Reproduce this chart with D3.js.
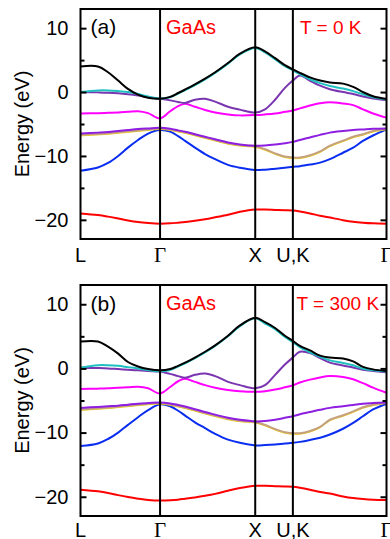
<!DOCTYPE html>
<html>
<head>
<meta charset="utf-8">
<script src="https://cdn.jsdelivr.net/npm/d3@7"></script>
<style>
  html, body { margin: 0; padding: 0; background: #fff; }
  svg { display: block; font-family: "Liberation Sans", Arial, sans-serif; }
</style>
</head>
<body>
<div id="chart"></div>
<script>
// k-path grid (fraction of the L-Γ-X-U,K-Γ path)
const kPath = [0, 0.057, 0.090, 0.123, 0.155, 0.188, 0.221, 0.260, 0.293, 0.319, 0.342, 0.374, 0.407, 0.440, 0.482,
  0.521, 0.571, 0.603, 0.636, 0.668, 0.694, 0.717, 0.750, 0.783, 0.815, 0.858, 0.891, 0.923, 0.956, 1];
const symLabels = ['L', 'Γ', 'X', 'U,K', 'Γ'];
const symK = [0, 0.260, 0.571, 0.694, 1];
const majorTicks = [-20, -10, 0, 10];
const minorTicks = [-15, -5, 5];

// band colours, lowest band first (drawing order)
const bandColors = ['#ff0000', '#0a2ef0', '#c4a07e', '#8e1ee0', '#ff00ff', '#7a35b0', '#20c0c0', '#000000'];

// (a) T = 0 K
const redA = [-19.0, -19.25, -19.5, -19.8, -20.1, -20.35, -20.5, -20.6, -20.55, -20.45, -20.35, -20.15, -19.9, -19.6, -19.2,
  -18.75, -18.4, -18.4, -18.45, -18.5, -18.55, -18.7, -19.0, -19.35, -19.65, -20.05, -20.3, -20.45, -20.55, -20.6];
const blueA = [-12.3, -11.8, -11.1, -10.0, -8.7, -7.5, -6.5, -5.95, -6.2, -6.9, -7.65, -8.7, -9.7, -10.5, -11.4,
  -11.85, -12.2, -12.15, -12.0, -11.85, -11.7, -11.6, -11.35, -11.05, -10.5, -9.5, -8.7, -7.65, -6.8, -5.85];
const tanA = [-6.7, -6.55, -6.45, -6.3, -6.15, -6.0, -5.85, -5.7, -5.85, -6.1, -6.3, -6.7, -7.1, -7.5, -8.0,
  -8.3, -8.5, -8.95, -9.6, -10.1, -10.25, -10.25, -9.9, -9.3, -8.4, -7.6, -7.0, -6.6, -6.1, -5.75];
const violetA = [-6.5, -6.35, -6.25, -6.1, -5.95, -5.8, -5.7, -5.6, -5.75, -6.0, -6.2, -6.6, -7.0, -7.4, -7.9,
  -8.2, -8.4, -8.35, -8.2, -8.0, -7.8, -7.5, -7.1, -6.7, -6.35, -6.1, -5.95, -5.85, -5.75, -5.7];
const magentaA = [-3.35, -3.3, -3.25, -3.2, -3.1, -3.0, -3.3, -4.1, -3.0, -2.2, -1.85, -2.3, -2.8, -3.2, -3.5,
  -3.65, -3.6, -3.5, -3.35, -3.1, -2.9, -2.55, -2.1, -1.75, -1.6, -1.8, -2.05, -2.7, -3.35, -4.0];
const purpleA = [0.0, -0.05, -0.1, -0.2, -0.35, -0.55, -0.8, -1.05, -1.3, -1.55, -1.7, -1.2, -1.05, -1.5, -2.3,
  -2.75, -3.2, -2.7, -1.2, 0.65, 1.8, 2.6, 1.75, 1.0, 0.45, 0.0, -0.3, -0.7, -1.0, -1.25];
const cyanA = [0.0, 0.25, 0.25, 0.15, 0.0, -0.3, -0.7, -1.0, -0.8, -0.25, 0.3, 1.1, 2.0, 3.0, 4.45,
  5.9, 6.9, 6.2, 5.15, 4.05, 3.4, 2.8, 2.0, 1.4, 0.95, 0.55, 0.15, -0.35, -0.8, -1.15];
const blackA = [4.0, 4.0, 3.1, 1.8, 0.5, -0.4, -0.9, -1.05, -0.75, -0.15, 0.4, 1.2, 2.1, 3.1, 4.55,
  6.0, 7.0, 6.35, 5.3, 4.2, 3.55, 3.0, 2.3, 1.8, 1.5, 1.32, 0.8, 0.0, -0.65, -1.1];

// (b) T = 300 K
const redB = [-18.9, -19.15, -19.4, -19.75, -20.05, -20.3, -20.5, -20.6, -20.55, -20.45, -20.3, -20.1, -19.85, -19.55, -19.05,
  -18.65, -18.3, -18.3, -18.35, -18.4, -18.45, -18.6, -18.9, -19.25, -19.5, -19.95, -20.2, -20.35, -20.45, -20.5];
const blueB = [-12.1, -11.7, -11.0, -10.0, -8.8, -7.6, -6.5, -5.6, -5.9, -6.6, -7.35, -8.4, -9.3, -10.2, -11.1,
  -11.6, -12.0, -11.95, -11.85, -11.7, -11.6, -11.45, -11.15, -10.8, -10.3, -9.4, -8.5, -7.45, -6.4, -5.5];
const tanB = [-6.4, -6.2, -6.1, -5.95, -5.8, -5.65, -5.5, -5.4, -5.6, -5.85, -6.1, -6.5, -6.95, -7.35, -7.85,
  -8.15, -8.35, -8.8, -9.45, -9.95, -10.1, -10.1, -9.75, -9.1, -8.0, -7.3, -6.7, -6.05, -5.65, -5.3];
const violetB = [-6.15, -6.0, -5.9, -5.8, -5.65, -5.5, -5.4, -5.3, -5.45, -5.7, -5.95, -6.35, -6.8, -7.2, -7.7,
  -8.0, -8.25, -8.2, -8.0, -7.7, -7.45, -7.15, -6.8, -6.45, -6.15, -5.9, -5.7, -5.5, -5.4, -5.3];
const magentaB = [-3.2, -3.15, -3.1, -3.0, -2.95, -2.85, -3.1, -3.9, -2.9, -2.0, -1.6, -2.1, -2.6, -3.0, -3.35,
  -3.55, -3.65, -3.55, -3.3, -2.95, -2.65, -2.2, -1.75, -1.4, -1.2, -1.35, -1.7, -2.3, -3.0, -3.8];
const purpleB = [0.1, 0.05, 0.0, -0.1, -0.2, -0.3, -0.4, -0.5, -0.85, -1.2, -1.45, -1.0, -0.8, -1.2, -2.1,
  -2.6, -3.1, -2.6, -1.0, 0.6, 1.7, 2.6, 2.4, 1.6, 0.9, 0.45, 0.15, -0.2, -0.4, -0.6];
const cyanB = [0.1, 0.5, 0.5, 0.4, 0.2, 0.0, -0.25, -0.45, -0.25, 0.3, 0.8, 1.6, 2.5, 3.5, 5.0,
  6.6, 7.8, 7.0, 6.1, 4.9, 4.1, 3.3, 2.5, 1.8, 1.25, 0.85, 0.5, -0.05, -0.3, -0.5];
const blackB = [4.2, 4.2, 3.4, 2.3, 1.0, 0.3, -0.1, -0.3, -0.1, 0.4, 0.9, 1.7, 2.6, 3.6, 5.1,
  6.7, 7.9, 7.2, 6.3, 5.1, 4.3, 3.5, 2.8, 2.0, 1.7, 1.55, 1.1, 0.25, -0.15, -0.4];

const W = 390, H = 539;
const svg = d3.select('#chart').append('svg').attr('width', W).attr('height', H);

function drawPanel({ top, bottom, tag, temp, bands, tagY, nameY, tempY, tempX, labelY }) {
  const x = d3.scaleLinear().domain([0, 1]).range([80.5, 386.5]);
  const y = d3.scaleLinear().domain([-23, 13]).range([bottom, top]);
  const g = svg.append('g');

  const line = d3.line().x((d, i) => x(kPath[i])).y(d => y(d)).curve(d3.curveCatmullRom.alpha(0.5));
  bands.forEach((b, i) => {
    // faint yellow edge under the tan band, as in the original
    if (i === 2) g.append('path').attr('d', line(b)).attr('fill', 'none')
      .attr('stroke', '#f0d000').attr('stroke-width', 1).attr('transform', 'translate(0,1)');
    g.append('path').attr('d', line(b)).attr('fill', 'none')
      .attr('stroke', bandColors[i]).attr('stroke-width', 2);
  });

  // high-symmetry lines
  g.selectAll('.vl').data(symK.slice(1, -1)).join('line')
    .attr('x1', d => x(d)).attr('x2', d => x(d)).attr('y1', top).attr('y2', bottom)
    .attr('stroke', '#000').attr('stroke-width', 2);

  // inward ticks on both sides
  const left = d3.axisLeft(y).tickValues(majorTicks).tickSize(-6).tickFormat(d3.format('d')).tickPadding(12);
  const leftMinor = d3.axisLeft(y).tickValues(minorTicks).tickSize(-4).tickFormat('');
  const right = d3.axisRight(y).tickValues(majorTicks).tickSize(-6).tickFormat('');
  const rightMinor = d3.axisRight(y).tickValues(minorTicks).tickSize(-4).tickFormat('');
  [[left, 80.5], [leftMinor, 80.5], [right, 386.5], [rightMinor, 386.5]].forEach(([ax, px]) => {
    const a = g.append('g').attr('transform', `translate(${px},0)`).call(ax);
    a.select('.domain').remove();
    a.selectAll('line').attr('stroke', '#000').attr('stroke-width', 2);
    a.selectAll('text').attr('fill', '#000').style('font-size', '20px').attr('font-family', null);
  });

  g.append('rect').attr('x', 80.5).attr('y', top).attr('width', 306).attr('height', bottom - top)
    .attr('fill', 'none').attr('stroke', '#000').attr('stroke-width', 2);

  // k-point labels (Γ set in a serif face like the original)
  g.selectAll('.kl').data(symLabels).join('text')
    .attr('x', (d, i) => x(symK[i])).attr('y', labelY).attr('text-anchor', 'middle')
    .style('font-size', d => d === 'Γ' ? '21px' : '20px')
    .style('font-family', d => d === 'Γ' ? '"Liberation Serif", "Times New Roman", serif' : null)
    .text(d => d);

  g.append('text').attr('transform', `translate(29,${(top + bottom) / 2}) rotate(-90)`)
    .attr('text-anchor', 'middle').style('font-size', '20px').text('Energy (eV)');

  g.append('text').attr('x', 90.5).attr('y', tagY).style('font-size', '21px').text(tag);
  g.append('text').attr('x', 166).attr('y', nameY).attr('fill', '#ff0000').style('font-size', '20px').text('GaAs');
  g.append('text').attr('x', tempX).attr('y', tempY).attr('fill', '#ff0000').style('font-size', '19px').text(temp);
}

drawPanel({ top: 9, bottom: 239, tag: '(a)', temp: 'T = 0 K',
  bands: [redA, blueA, tanA, violetA, magentaA, purpleA, cyanA, blackA],
  tagY: 34, nameY: 33.5, tempY: 33.5, tempX: 300, labelY: 262 });
drawPanel({ top: 285, bottom: 516, tag: '(b)', temp: 'T = 300 K',
  bands: [redB, blueB, tanB, violetB, magentaB, purpleB, cyanB, blackB],
  tagY: 311, nameY: 310, tempY: 310, tempX: 296.5, labelY: 537 });
</script>
</body>
</html>
